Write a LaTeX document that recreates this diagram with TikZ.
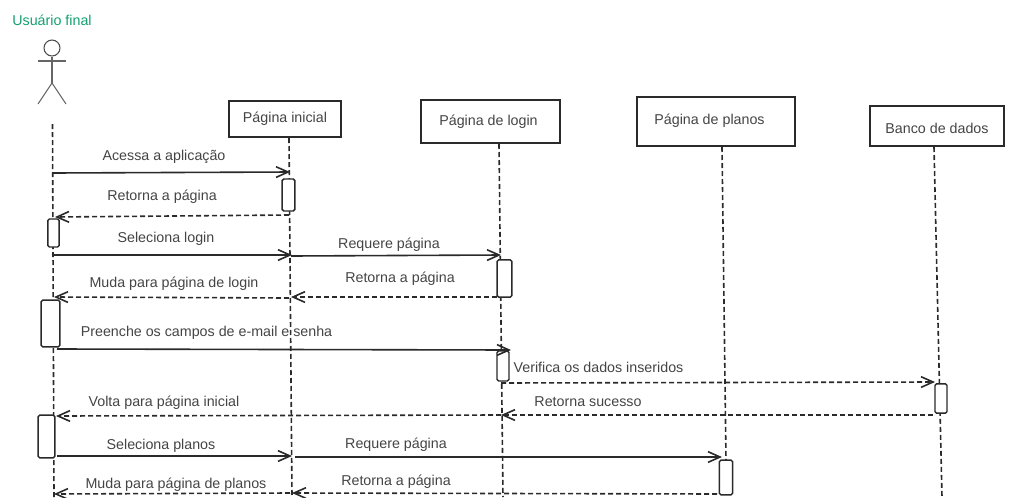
\documentclass[tikz,border=0pt]{standalone}
\usepackage{fontspec}
\setmainfont{Liberation Sans}
\usetikzlibrary{arrows.meta, positioning}
\definecolor{ink}{HTML}{2A2A2A}
\definecolor{label}{HTML}{444444}
\definecolor{actorname}{HTML}{12A070}

\begin{document}
\begin{tikzpicture}[
	x=0.75pt, y=-0.75pt,
	font=\fontsize{10.7pt}{12pt}\selectfont,
	head/.style={rectangle, draw=ink, line width=1.2pt, fill=white, text=label, inner sep=0pt},
	bar/.style={rectangle, draw=ink, line width=1.1pt, fill=white, rounded corners=1.2pt, inner sep=0pt},
	txt/.style={text=label, inner sep=0pt, yshift=-0.5pt},
	life/.style={draw=ink, line width=1.2pt, dash pattern=on 3.75pt off 2.25pt},
	msg/.style={draw=ink, line width=1.2pt, -{Straight Barb[length=9pt, width=8pt]}},
	ret/.style={msg, dash pattern=on 3.75pt off 2.25pt},
	limb/.style={draw=black!60, line width=0.8pt},
	]
	\useasboundingbox (0,0) rectangle (1033,497);

	% actor
	\node [txt, text=actorname] (actorName) at (52,20) {Usuário final};
	\node [circle, draw=black!70, line width=0.8pt, minimum size=12pt, inner sep=0pt] (actorHead) at (52,48) {};
	\coordinate (hip) at (52,83);
	\coordinate (armL) at (38,61);
	\coordinate (armR) at (66,61);
	\coordinate (footL) at (38,104);
	\coordinate (footR) at (66,104);
	\draw [limb] (actorHead.south) -- (hip);
	\draw [limb] (armL) -- (armR);
	\draw [limb] (footL) -- (hip) -- (footR);

	% headers
	\node [head, minimum width=84pt, minimum height=27pt] (inicial) at (285,119) {};
	\node [txt] (inicialName) at (285,118.5) {Página inicial};
	\node [head, minimum width=104pt, minimum height=32pt] (login) at (490.5,121.5) {};
	\node [txt] (loginName) at (488.5,121.5) {Página de login};
	\node [head, minimum width=118.5pt, minimum height=36.5pt] (planos) at (716,121.5) {};
	\node [txt] (planosName) at (709.5,120.5) {Página de planos};
	\node [head, minimum width=100.5pt, minimum height=30pt] (banco) at (937,126) {};
	\node [txt] (bancoName) at (937,128) {Banco de dados};

	% lifeline ends
	\coordinate (aTop) at (52.5,124);
	\coordinate (aEnd) at (54,497);
	\coordinate (iTop) at (289,138);
	\coordinate (iEnd) at (292,497);
	\coordinate (lTop) at (499,144);
	\coordinate (lEnd) at (503,497);
	\coordinate (pTop) at (722,147);
	\coordinate (bTop) at (934,147);
	\coordinate (bEnd) at (942,497);

	% activations
	\path [life] (aTop) -- (aEnd);
	\path [life] (iTop) -- (iEnd);
	\path [life] (lTop) -- (lEnd);
	\path [life] (pTop) -- (726,460);
	\path [life] (bTop) -- (bEnd);
	\node [bar, minimum width=8.5pt, minimum height=21pt] (aBar1) at (53.5,233) {};
	\node [bar, minimum width=14pt, minimum height=35pt] (aBar2) at (50.5,323.5) {};
	\node [bar, minimum width=12.5pt, minimum height=32pt] (aBar3) at (46.5,436.5) {};
	\node [bar, minimum width=9.5pt, minimum height=24pt] (iBar) at (288.5,195) {};
	\node [bar, minimum width=11pt, minimum height=28pt] (lBar1) at (504.5,278.5) {};
	\node [bar, minimum width=9pt, minimum height=22.5pt] (lBar2) at (503,366) {};
	\node [bar, minimum width=10pt, minimum height=26pt] (pBar) at (726,477.5) {};
	\node [bar, minimum width=9pt, minimum height=22pt] (bBar) at (941,398.5) {};

	% message ends
	\coordinate (m1a) at (53,173);
	\coordinate (m1b) at (290,172);
	\coordinate (m2a) at (289,215);
	\coordinate (m2b) at (55,217);
	\coordinate (m3a) at (53,255);
	\coordinate (m3b) at (292,255);
	\coordinate (m4a) at (291,256);
	\coordinate (m4b) at (501,255);
	\coordinate (m5a) at (497,297);
	\coordinate (m5b) at (291,297);
	\coordinate (m6a) at (289,298);
	\coordinate (m6b) at (54,297);
	\coordinate (m7a) at (57,349);
	\coordinate (m7b) at (511,350);
	\coordinate (m8a) at (501,383);
	\coordinate (m8b) at (935,382);
	\coordinate (m9a) at (933,415);
	\coordinate (m9b) at (501,415);
	\coordinate (m10a) at (501,415);
	\coordinate (m10b) at (56,416);
	\coordinate (m11a) at (57,456);
	\coordinate (m11b) at (292,456);
	\coordinate (m12a) at (295,457);
	\coordinate (m12b) at (722,457);
	\coordinate (m13a) at (717,494);
	\coordinate (m13b) at (292,493);
	\coordinate (m14a) at (290,493);
	\coordinate (m14b) at (54,494);

	\path [msg] (m1a) -- (m1b);
	\path [ret] (m2a) -- (m2b);
	\path [msg] (m3a) -- (m3b);
	\path [msg] (m4a) -- (m4b);
	\path [ret] (m5a) -- (m5b);
	\path [ret] (m6a) -- (m6b);
	\path [msg] (m7a) -- (m7b);
	\path [ret] (m8a) -- (m8b);
	\path [ret] (m9a) -- (m9b);
	\path [ret] (m10a) -- (m10b);
	\path [msg] (m11a) -- (m11b);
	\path [msg] (m12a) -- (m12b);
	\path [ret] (m13a) -- (m13b);
	\path [ret] (m14a) -- (m14b);

	% message labels
	\node [txt] (t1) at (164,156.5) {Acessa a aplicação};
	\node [txt] (t2) at (162,196.5) {Retorna a página};
	\node [txt] (t3) at (166,238.5) {Seleciona login};
	\node [txt] (t4) at (389,244.5) {Requere página};
	\node [txt] (t5) at (400,278.5) {Retorna a página};
	\node [txt] (t6) at (174,283.5) {Muda para página de login};
	\node [txt] (t7) at (206.5,332.5) {Preenche os campos de e-mail e senha};
	\node [txt] (t8) at (598.5,366.5) {Verifica os dados inseridos};
	\node [txt] (t9) at (588,400.5) {Retorna sucesso};
	\node [txt] (t10) at (164,402.5) {Volta para página inicial};
	\node [txt] (t11) at (161,445.5) {Seleciona planos};
	\node [txt] (t12) at (396,444.5) {Requere página};
	\node [txt] (t13) at (396,481.5) {Retorna a página};
	\node [txt] (t14) at (176,484.5) {Muda para página de planos};
\end{tikzpicture}
\end{document}
